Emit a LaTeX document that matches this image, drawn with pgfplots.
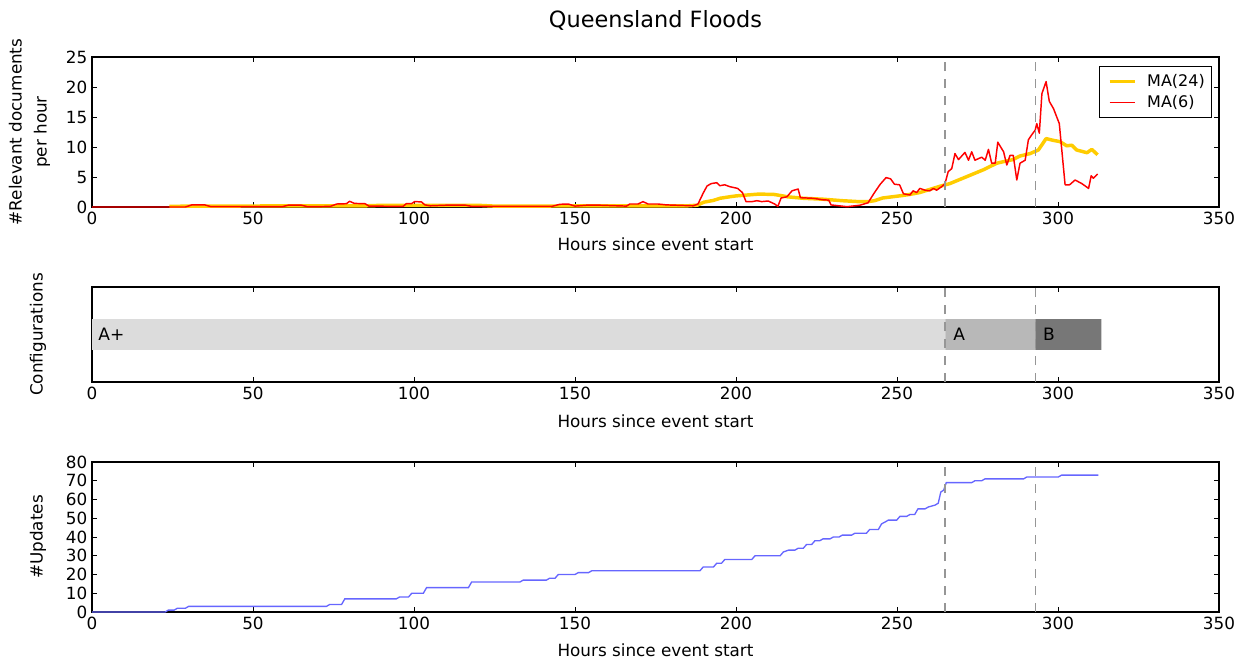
\documentclass[border=0pt]{standalone}
\usepackage{fontspec}
\setmainfont{DejaVu Sans}
\usepackage{pgfplots}
\pgfplotsset{compat=1.18}
\definecolor{ma24}{RGB}{255,204,0}
\definecolor{upd}{RGB}{102,102,255}
\definecolor{dashc}{RGB}{150,150,150}
\definecolor{cAp}{RGB}{220,220,220}
\definecolor{cA}{RGB}{184,184,184}
\definecolor{cB}{RGB}{119,119,119}
\pgfplotsset{
 common/.style={
  scale only axis, width=845.25pt,
  xmin=0, xmax=350, xtick={0,50,...,350},
  axis line style={line width=0.9pt},
  every tick/.style={black, line width=0.7pt}, major tick length=3.75pt,
  tick label style={font=\fontsize{12.6}{14}\selectfont},
  label style={font=\fontsize{12.6}{18.75}\selectfont},
  /pgf/number format/assume math mode=true,
  xlabel={Hours since event start},
  tick align=inside,
 },
 vdash/.style={dashc, line width=1.3pt, dash pattern=on 6.75pt off 6pt, forget plot},
}
\begin{document}
\begin{tikzpicture}
\useasboundingbox (0,0) rectangle (936pt,-498pt);
% ---------- top ----------
\begin{axis}[common, height=112.5pt, at={(69pt,-155.25pt)}, anchor=south west,
  ymin=0, ymax=25, ytick={0,5,...,25},
  title={Queensland Floods},
  every axis title shift=0pt,
  title style={at={(axis description cs:0.5,1.247)}, anchor=center, yshift=0pt, font=\fontsize{16.8}{19}\selectfont},
  ylabel={\#Relevant documents\\per hour},
  ylabel style={at={(axis description cs:-0.0555,0.5)}, anchor=center, align=center},
  xlabel style={at={(axis description cs:0.5,-0.247)}, anchor=center},
  legend image code/.code={\path (0pt,0pt); \draw[#1] (3pt,0pt) -- (22pt,0pt);},
  legend style={at={(0.9938,0.94)}, anchor=north east, draw=black, line width=0.8pt,
    font=\fontsize{12}{14}\selectfont, cells={anchor=west}, inner xsep=3pt, inner ysep=4pt, row sep=1pt},
  ]
\addplot[ma24, line width=2.6pt, line join=round] coordinates {
(24,0.1) (30,0.15) (85,0.2) (90,0.28) (120,0.28) (125,0.15) (185,0.2) (188,0.3) (190,0.8)
(193,1.1) (195,1.45) (198,1.7) (200,1.85) (207,2.15) (211.7,2.1) (214,1.9) (216,1.7)
(221,1.45) (227,1.3) (233,1.05) (238,0.9) (241,0.9) (243,1.05) (245.5,1.5) (251.5,1.9)
(254,2.1) (257,2.4) (263,3.4) (266.4,3.9) (271.6,5.05) (276.8,6.2) (281,7.3) (283,7.55)
(286,7.9) (288.2,8.5) (291.3,8.9) (293.9,9.5) (296.3,11.4) (298.6,11.1) (300.6,10.9)
(302.7,10.2) (304.3,10.3) (305.8,9.5) (309,9.05) (310.5,9.6) (312.3,8.7)};
\addlegendentry{\hspace{6pt}MA(24)}
\addplot[red, line width=1.1pt, line join=round] coordinates {
(0,0) (29,0) (31,0.35) (35,0.35) (37,0.05) (59,0.05) (61,0.3) (65,0.3) (67,0.05) (74,0.1)
(76,0.5) (79,0.55) (80,0.95) (81.5,0.6) (84.8,0.55) (86,0.15) (96.6,0.1) (97.6,0.55)
(99.2,0.55) (100.2,0.9) (102.3,0.85) (103.4,0.35) (105,0.2) (110,0.3) (116,0.3) (118,0.1)
(142.8,0.1) (145.3,0.45) (147.9,0.5) (150,0.15) (153.6,0.3) (157.7,0.3) (166,0.15) (167,0.5)
(169.6,0.5) (171.1,0.9) (172.7,0.5) (175.8,0.5) (178.4,0.35) (186.7,0.2) (188.2,0.5)
(189.8,2.3) (191,3.5) (192.3,3.9) (194,4.05) (195,3.55) (196.5,3.7) (198,3.4) (200.5,3.1)
(202,2.4) (203.1,0.9) (205,0.9) (206.5,1.05) (208,0.9) (210,1.0) (212,0.5) (213,0.1)
(214,1.5) (215.8,1.7) (217.4,2.7) (219.3,3.0) (220,1.55) (224,1.45) (227,1.2) (228.8,1.15)
(229.5,0.35) (234.5,0.05) (238.5,0.3) (241,0.7) (243,2.4) (244.8,3.8) (246.6,4.9) (248,4.7)
(249.2,3.8) (250.8,3.7) (252,2.2) (254,2.0) (255,2.7) (256.1,2.4) (257.1,3.1) (258.7,2.8)
(260.2,2.7) (261.3,3.1) (262.3,2.8) (263.9,3.4) (264.9,3.9) (265.9,5.9) (267,6.4) (268,8.9)
(269.1,7.9) (270.1,8.5) (271.1,9.1) (272.2,7.8) (273.2,9.2) (274.2,7.8) (276.3,8.3)
(277.4,7.8) (278.4,9.6) (279.4,7.3) (280.5,7.3) (281.3,10.8) (283.1,9.2) (284.1,7.0)
(285.1,8.6) (286.1,8.6) (287.2,4.5) (288.2,7.3) (289.8,7.8) (290.8,11.2) (291.8,12.0)
(292.9,12.8) (293.4,13.9) (294.2,12.3) (295,18.9) (296.3,20.9) (297.3,17.6) (298.6,16.4)
(300.4,13.9) (302.2,3.7) (303.6,3.7) (305.3,4.5) (307.4,3.9) (309.5,3.1) (310.3,5.2)
(311,4.8) (312.3,5.5)};
\addlegendentry{\hspace{6pt}MA(6)}
\addplot[vdash] coordinates {(265,0) (265,25)};
\addplot[vdash] coordinates {(293,0) (293,25)};
\end{axis}
% ---------- middle ----------
\begin{axis}[common, height=71.25pt, at={(69pt,-286.5pt)}, anchor=south west,
  ymin=0, ymax=1, ytick=\empty,
  ylabel={Configurations},
  ylabel style={at={(axis description cs:-0.048,0.5)}, anchor=center},
  xlabel style={at={(axis description cs:0.5,-0.41)}, anchor=center},
  ]
\addplot[fill=cAp, draw=none] coordinates {(0,0.337) (265,0.337) (265,0.663) (0,0.663) (0,0.337)};
\addplot[fill=cA, draw=none] coordinates {(265,0.337) (293,0.337) (293,0.663) (265,0.663) (265,0.337)};
\addplot[fill=cB, draw=none] coordinates {(293,0.337) (313.5,0.337) (313.5,0.663) (293,0.663) (293,0.337)};
\addplot[vdash] coordinates {(265,0) (265,1)};
\addplot[vdash] coordinates {(293,0) (293,1)};
\node[anchor=west, inner sep=0pt, font=\fontsize{12.8}{14}\selectfont] at (axis cs:1.9,0.5) {A+};
\node[anchor=west, inner sep=0pt, font=\fontsize{12.8}{14}\selectfont] at (axis cs:267.4,0.5) {A};
\node[anchor=west, inner sep=0pt, font=\fontsize{12.8}{14}\selectfont] at (axis cs:295.3,0.5) {B};
\end{axis}
% ---------- bottom ----------
\begin{axis}[common, height=112.5pt, at={(69pt,-459pt)}, anchor=south west,
  ymin=0, ymax=80, ytick={0,10,...,80},
  ylabel={\#Updates},
  ylabel style={at={(axis description cs:-0.048,0.5)}, anchor=center},
  xlabel style={at={(axis description cs:0.5,-0.253)}, anchor=center},
  ]
\addplot[upd, line width=1pt] coordinates {
(0,0) (22.7,0) (23.7,1) (25.5,1) (26.5,2) (29,2) (30,3) (72.8,3) (73.8,4) (77.5,4) (78.5,7)
(94.5,7) (95.5,8) (98.3,8) (99.3,10) (102.9,10) (103.9,13) (116.9,13) (117.9,16) (132.9,16)
(133.9,17) (141.1,17) (142.1,18) (143.8,18) (144.8,20) (150,20) (151,21) (154.2,21) (155.2,22)
(188.8,22) (189.8,24) (193,24) (194,26) (195.5,26) (196.5,28) (204.9,28) (205.9,30) (213.7,30)
(214.7,32) (216.3,33) (218.3,33) (219.3,34) (220.9,34) (221.9,36) (223.5,36) (224.5,38)
(226,38) (227,39) (229.2,39) (230.2,40) (232,40) (233,41) (235.9,41) (236.9,42) (240.5,42)
(241.5,44) (244.2,44) (245.2,47) (246.3,48) (247.3,49) (249.9,49) (250.9,51) (253,51) (254,52)
(255.5,52) (256.5,55) (258.7,55) (259.7,56) (261.8,57) (262.8,58) (263.6,64) (264.5,65)
(265.3,69) (273.2,69) (274.2,70) (276.3,70) (277.3,71) (289.3,71) (290.3,72) (300.1,72)
(301.1,73) (312.5,73)};
\addplot[vdash] coordinates {(265,0) (265,80)};
\addplot[vdash] coordinates {(293,0) (293,80)};
\end{axis}
\end{tikzpicture}
\end{document}
